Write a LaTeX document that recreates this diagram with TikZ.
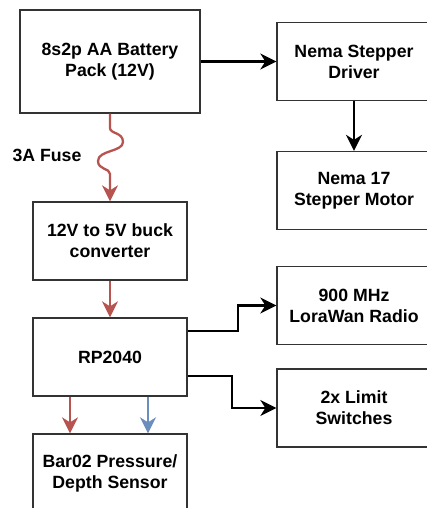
\documentclass[tikz,border=0pt]{standalone}
\usepackage{fontspec}
\setmainfont{Liberation Sans}
\usetikzlibrary{arrows.meta}
\definecolor{fusered}{HTML}{B85450}
\definecolor{datablue}{HTML}{6C8EBF}

\begin{document}
\begin{tikzpicture}[x=1pt, y=-1pt,
    box/.style={draw=black!80, line width=1.3pt, fill=white, minimum width=154pt, minimum height=78pt, align=center, font=\bfseries\fontsize{17.7}{21}\selectfont},
    conn/.style={line width=2.3pt, -{Stealth[length=16pt, width=16pt, inset=5pt]}}]
    \clip (0,0) rectangle (427,508);
    % ブロック
    \node[box, minimum width=180pt, minimum height=103pt] (batt) at (110,61.5) {8s2p AA Battery\\Pack (12V)};
    \node[box] (buck) at (110,241) {12V to 5V buck\\converter};
    \node[box] (rp) at (110,357) {RP2040};
    \node[box] (sensor) at (110,473) {Bar02 Pressure/\\Depth Sensor};
    \node[box] (driver) at (354,61.5) {Nema Stepper\\Driver};
    \node[box] (motor) at (354,190.5) {Nema 17\\Stepper Motor};
    \node[box] (lora) at (354,305.5) {900 MHz\\LoraWan Radio};
    \node[box] (limit) at (354,408) {2x Limit\\Switches};
    \node[font=\bfseries\fontsize{17.7}{21}\selectfont] (fuselbl) at (47,155) {3A Fuse};
    % ヒューズ
    \draw[conn, fusered] (batt.south) -- (110,128)
        .. controls (110,134) and (123,132) .. (123,142)
        .. controls (123,152) and (98,150) .. (98,161)
        .. controls (98,170) and (110,168) .. (110,174) -- (buck.north);
    % 接続
    \draw[conn, fusered] (buck.south) -- (rp.north);
    \draw[conn, fusered] ([xshift=-40pt]rp.south) -- ([xshift=-40pt]sensor.north);
    \draw[conn, datablue] ([xshift=38pt]rp.south) -- ([xshift=38pt]sensor.north);
    \draw[conn] (batt.east) -- (driver.west);
    \draw[conn] (driver.south) -- (motor.north);
    \draw[conn] ([yshift=26pt]rp.east) -- ++(50,0) |- (lora.west);
    \draw[conn] ([yshift=-19pt]rp.east) -- ++(44,0) |- (limit.west);
\end{tikzpicture}
\end{document}
